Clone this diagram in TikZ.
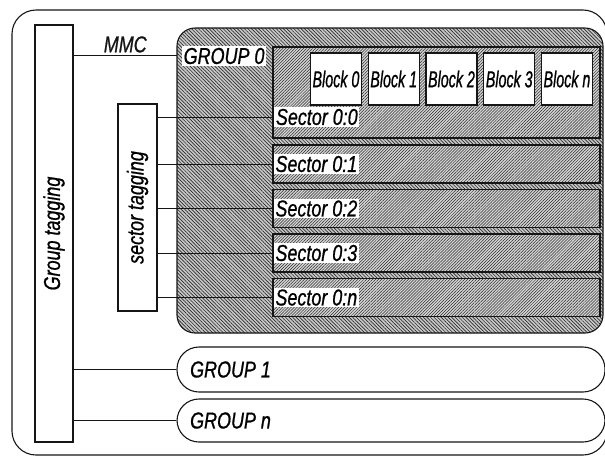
\documentclass[tikz,border=0pt]{standalone}
\usepackage{fontspec}
\newfontfamily\diagfont{Liberation Sans}[FakeStretch=0.78,FakeBold=0.8]
\newfontfamily\blockfont{Liberation Sans}[FakeStretch=0.62,FakeBold=0.8]
\usetikzlibrary{positioning,patterns.meta}
\definecolor{ink}{HTML}{151515}
\definecolor{hatch}{HTML}{2A2A2A}
\definecolor{shade}{HTML}{C8C8C8}
\definecolor{lightshade}{HTML}{D4D4D4}
\tikzset{
  lbl/.style={font=\diagfont\itshape\fontsize{23}{26}\selectfont,inner sep=1.5pt},
  tagbox/.style={draw=ink,line width=1.1pt,fill=white,inner sep=0pt},
  grpzero/.style={draw=ink,line width=1.1pt,rounded corners=18pt,inner sep=0pt,
    preaction={fill=shade},pattern={Lines[angle=-45,distance=2.5pt,line width=0.65pt]},pattern color=hatch},
  secbox/.style={draw=ink,line width=1.4pt,inner sep=0pt,minimum width=327pt,
    preaction={fill=lightshade},pattern={Lines[angle=45,distance=2.1pt,line width=0.5pt]},pattern color=hatch},
  blockbox/.style={draw=ink,line width=1.1pt,fill=white,inner sep=0pt,minimum width=51pt,minimum height=52pt,
    font=\blockfont\itshape\fontsize{23}{26}\selectfont},
  grpbox/.style={draw=ink,line width=1.1pt,rounded corners=22pt,inner sep=0pt,minimum width=428pt},
  wire/.style={ink,line width=0.9pt}
}
\begin{document}
\begin{tikzpicture}[x=1pt,y=-1pt]
  \useasboundingbox (0,0) rectangle (605,456);
  % outer frame
  \draw[ink,line width=1.1pt,rounded corners=24pt] (12,10) rectangle (607,455);
  % tagging bars
  \node[tagbox,minimum width=38pt,minimum height=417pt] (gtag) at (54,233.5) {};
  \node[lbl] (gtaglbl) at (gtag.center) {\rotatebox{90}{Group tagging}};
  \node[tagbox,minimum width=39pt,minimum height=207pt] (stag) at (137.5,207.5) {};
  \node[lbl] (staglbl) at (stag.center) {\rotatebox{90}{sector tagging}};
  % group 0
  \node[grpzero,minimum width=426pt,minimum height=305pt] (g0) at (390,180.5) {};
  \node[lbl,fill=white,anchor=west] (g0lbl) at (182,56) {GROUP 0};
  \coordinate (mmc) at (177,55);
  \draw[wire] (gtag.east |- mmc) -- node[lbl,above=0.5pt] (mmclbl) {MMC} (mmc);
  % sectors
  \node[secbox,minimum height=91pt] (s0) at (436.5,92.5) {};
  \node[lbl,fill=white,anchor=west] (l0) at ([xshift=1.5pt]s0.west |- 0,117) {Sector 0:0};
  \draw[wire] (stag.east |- l0) -- (s0.west |- l0);
  \foreach \i/\y in {1/164,2/208.5,3/253,n/297.5} {
    \node[secbox,minimum height=38pt] (s\i) at (436.5,\y) {};
    \node[lbl,fill=white,anchor=west] (l\i) at ([xshift=1.5pt]s\i.west) {Sector 0:\i};
    \draw[wire] (stag.east |- s\i) -- (s\i.west);
  }
  % blocks
  \foreach \b [count=\k from 0] in {0,1,2,3,n}
    \node[blockbox] (b\b) at ({336+57.75*\k},79) {Block \b};
  % other groups
  \node[grpbox,minimum height=45pt] (g1) at (391,369.5) {};
  \node[lbl,anchor=west] (g1lbl) at ([xshift=12pt]g1.west) {GROUP 1};
  \node[grpbox,minimum height=43pt] (gn) at (391,420.5) {};
  \node[lbl,anchor=west] (gnlbl) at ([xshift=12pt]gn.west) {GROUP n};
  \draw[wire] (gtag.east |- g1) -- (g1.west);
  \draw[wire] (gtag.east |- gn) -- (gn.west);
\end{tikzpicture}
\end{document}
